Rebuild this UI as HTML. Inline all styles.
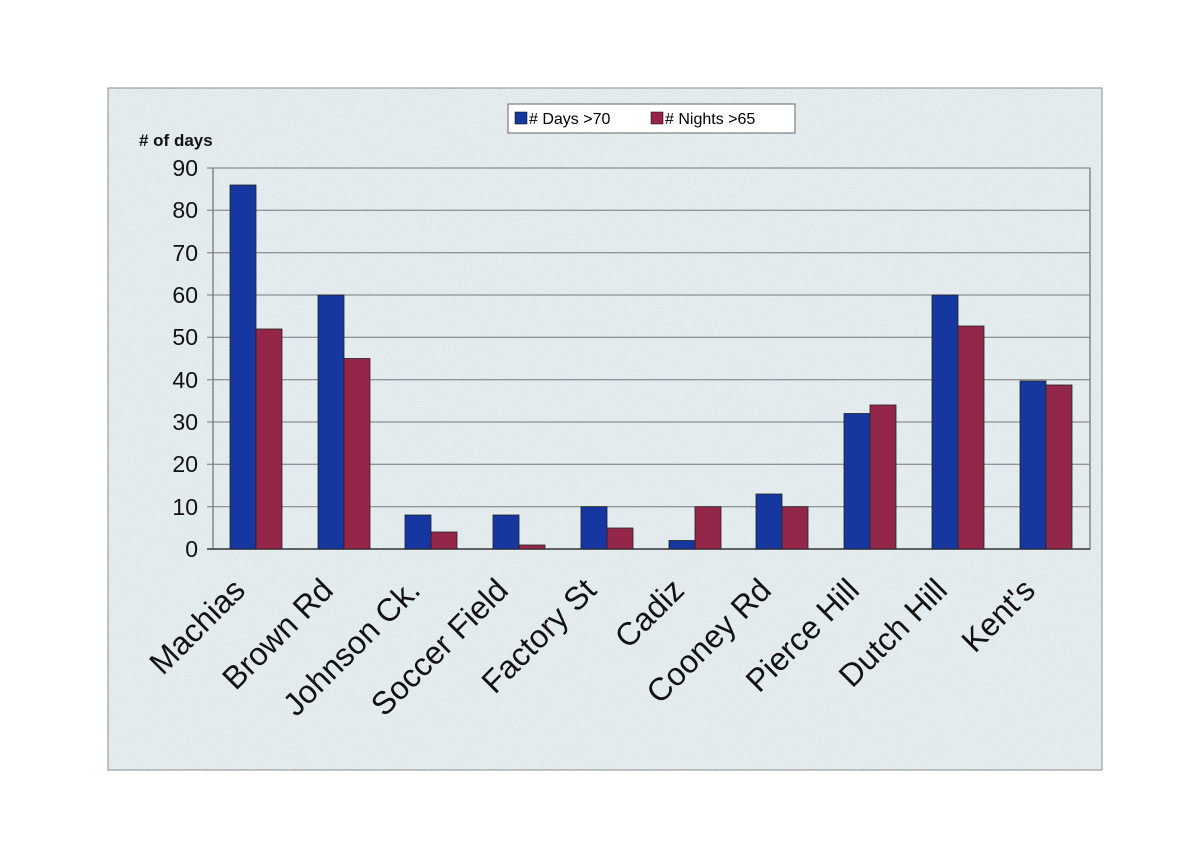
<!DOCTYPE html>
<html><head><style>body{margin:0;background:#fff}svg{display:block}</style></head><body>
<svg width="1200" height="859" xmlns="http://www.w3.org/2000/svg" font-family="Liberation Sans, Arial, sans-serif">
<defs>
<filter id="n" x="0" y="0" width="100%" height="100%"><feTurbulence type="fractalNoise" baseFrequency="0.9" numOctaves="2" seed="3"/><feColorMatrix values="0 0 0 0 0.55 0 0 0 0 0.62 0 0 0 0 0.66 0 0 0 -2.2 1.25"/></filter>
</defs>
<rect x="108" y="88" width="994" height="682" fill="#e6eef1" stroke="#888" stroke-width="1"/>
<rect x="108" y="88" width="994" height="682" filter="url(#n)" opacity="0.5"/>
<rect x="213" y="168" width="877" height="381" fill="none" stroke="#555" stroke-width="1"/>
<g stroke="#777" stroke-width="1">
<line x1="207" x2="1090" y1="168" y2="168"/><line x1="207" x2="1090" y1="210.3" y2="210.3"/><line x1="207" x2="1090" y1="252.7" y2="252.7"/><line x1="207" x2="1090" y1="295" y2="295"/><line x1="207" x2="1090" y1="337.3" y2="337.3"/><line x1="207" x2="1090" y1="379.7" y2="379.7"/><line x1="207" x2="1090" y1="422" y2="422"/><line x1="207" x2="1090" y1="464.3" y2="464.3"/><line x1="207" x2="1090" y1="506.7" y2="506.7"/>
</g>
<line x1="207" x2="1090" y1="549" y2="549" stroke="#333" stroke-width="1.5"/>
<g font-size="23" text-anchor="end" fill="#111">
<text x="198" y="176">90</text><text x="198" y="218">80</text><text x="198" y="261">70</text><text x="198" y="303">60</text><text x="198" y="345">50</text><text x="198" y="388">40</text><text x="198" y="430">30</text><text x="198" y="472">20</text><text x="198" y="515">10</text><text x="198" y="557">0</text>
</g>
<text x="139" y="146" font-size="17" font-weight="bold" fill="#111"># of days</text>
<rect x="508" y="104" width="287" height="29" fill="#fff" stroke="#666"/>
<rect x="515" y="112" width="12" height="12" fill="#1636a0" stroke="#000" stroke-width="0.5"/>
<text x="529" y="124" font-size="16">#&#160;Days &gt;70</text>
<rect x="651" y="112" width="12" height="12" fill="#94264a" stroke="#000" stroke-width="0.5"/>
<text x="665" y="124" font-size="16">#&#160;Nights &gt;65</text>
<g stroke="#222" stroke-width="0.8">
<rect x="230" y="185" width="26" height="364" fill="#1636a0"/><rect x="256" y="329" width="26" height="220" fill="#94264a"/>
<rect x="318" y="295" width="26" height="254" fill="#1636a0"/><rect x="344" y="358.5" width="26" height="190.5" fill="#94264a"/>
<rect x="405" y="515" width="26" height="34" fill="#1636a0"/><rect x="431" y="532" width="26" height="17" fill="#94264a"/>
<rect x="493" y="515" width="26" height="34" fill="#1636a0"/><rect x="519" y="545" width="26" height="4" fill="#94264a"/>
<rect x="581" y="506.7" width="26" height="42.3" fill="#1636a0"/><rect x="607" y="528" width="26" height="21" fill="#94264a"/>
<rect x="669" y="540.5" width="26" height="8.5" fill="#1636a0"/><rect x="695" y="506.7" width="26" height="42.3" fill="#94264a"/>
<rect x="756" y="494" width="26" height="55" fill="#1636a0"/><rect x="782" y="506.7" width="26" height="42.3" fill="#94264a"/>
<rect x="844" y="413.5" width="26" height="135.5" fill="#1636a0"/><rect x="870" y="405" width="26" height="144" fill="#94264a"/>
<rect x="932" y="295" width="26" height="254" fill="#1636a0"/><rect x="958" y="326" width="26" height="223" fill="#94264a"/>
<rect x="1020" y="381" width="26" height="168" fill="#1636a0"/><rect x="1046" y="385" width="26" height="164" fill="#94264a"/>
</g>
<g font-size="32" text-anchor="end" fill="#111">
<text transform="translate(247,592) rotate(-45)">Machias</text>
<text transform="translate(335,592) rotate(-45)">Brown Rd</text>
<text transform="translate(422,592) rotate(-45)">Johnson Ck.</text>
<text transform="translate(510,592) rotate(-45)">Soccer Field</text>
<text transform="translate(598,592) rotate(-45)">Factory St</text>
<text transform="translate(686,592) rotate(-45)">Cadiz</text>
<text transform="translate(773,592) rotate(-45)">Cooney Rd</text>
<text transform="translate(861,592) rotate(-45)">Pierce Hill</text>
<text transform="translate(949,592) rotate(-45)">Dutch Hill</text>
<text transform="translate(1037,592) rotate(-45)">Kent's</text>
</g>
</svg>
</body></html>
